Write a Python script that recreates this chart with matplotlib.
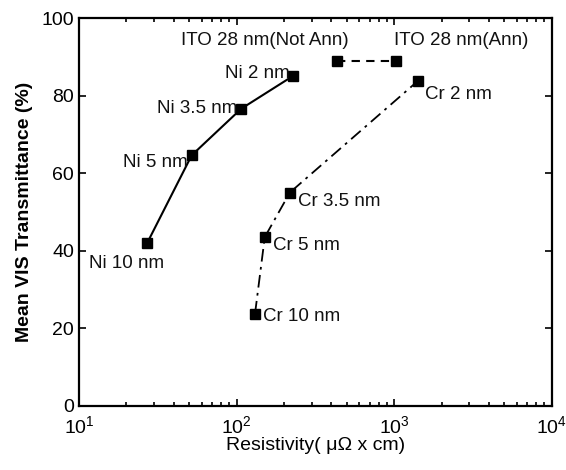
import numpy as np
import matplotlib
matplotlib.use('Agg')
from matplotlib import pyplot as plt

plt.rcParams['font.family'] = ['Liberation Sans', 'DejaVu Sans']
plt.rcParams['mathtext.fontset'] = 'custom'
plt.rcParams['mathtext.rm'] = 'Liberation Sans'

# Ni series
ni_res = [27.1, 51.9, 107, 229]
ni_trans = [42.0, 64.6, 76.6, 85.1]
ni_labels = ['Ni 10 nm', 'Ni 5 nm', 'Ni 3.5 nm', 'Ni 2 nm']

# Cr series
cr_res = [131, 151, 218, 1409]
cr_trans = [23.8, 43.5, 55.0, 83.7]
cr_labels = ['Cr 10 nm', 'Cr 5 nm', 'Cr 3.5 nm', 'Cr 2 nm']

# ITO
ito_res = [431, 1026]
ito_trans = [89.0, 89.0]
ito_labels = ['ITO 28 nm(Not Ann)', 'ITO 28 nm(Ann)']

# label offsets (pixels) and alignment
ni_offs = [(-21, -21, 'center'), (-4, -7, 'right'), (-4, 0, 'right'), (-4, 2, 'right')]
cr_offs = [(8, -3, 'left'), (8, -8, 'left'), (8, -9, 'left'), (7, -13, 'left')]
ito_offs = [(12, 20, 'right'), (-2, 20, 'left')]

fig = plt.figure(figsize=(5.66, 4.70), dpi=100)
ax = fig.add_axes([0.1396, 0.1366, 0.8351, 0.8251])

ax.plot(ni_res, ni_trans, '-', color='black', lw=1.5, marker='s', ms=7.2)
ax.plot(cr_res, cr_trans, color='black', lw=1.3, marker='s', ms=7.2,
        dashes=(7, 3, 1.5, 3))
ax.plot(ito_res, ito_trans, '--', color='black', lw=1.5, marker='s', ms=7.2,
        dashes=(4, 3))

for xs, ys, labs, offs in [(ni_res, ni_trans, ni_labels, ni_offs),
                           (cr_res, cr_trans, cr_labels, cr_offs),
                           (ito_res, ito_trans, ito_labels, ito_offs)]:
    for x, y, t, (dx, dy, ha) in zip(xs, ys, labs, offs):
        ax.annotate(t, (x, y), xytext=(dx, dy), textcoords='offset pixels',
                    ha=ha, va='center', fontsize=13.5, color='#111111')

ax.set_xscale('log')
ax.set_xlim(10, 1e4)
ax.set_ylim(0, 100)
ax.set_yticks([0, 20, 40, 60, 80, 100])
ax.tick_params(which='both', direction='in', top=True, right=True,
               labelsize=14, width=1.2)
ax.tick_params(axis='x', which='major', pad=7)
ax.tick_params(which='major', length=5)
ax.tick_params(which='minor', length=3)
for s in ax.spines.values():
    s.set_linewidth(1.6)

ax.set_xlabel('Resistivity( μΩ x cm)', fontsize=14, labelpad=0)
ax.set_ylabel('Mean VIS Transmittance (%)', fontsize=14, fontweight='bold',
              labelpad=6)

fig.savefig('out.png', dpi=100)
